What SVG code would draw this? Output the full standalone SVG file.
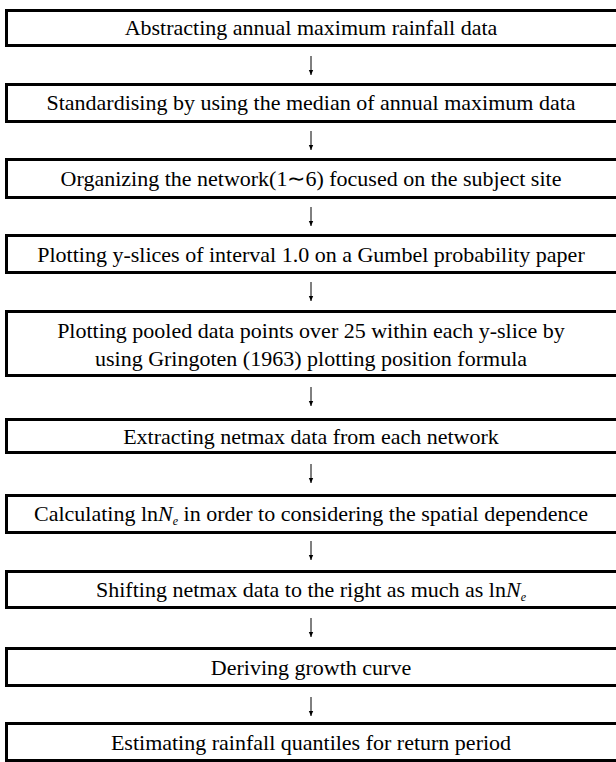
<svg xmlns="http://www.w3.org/2000/svg" width="616" height="762" viewBox="0 0 616 762">
<style>
.box{fill:#fff;stroke:#000;stroke-width:3}
.t{font-family:"Liberation Serif","Times New Roman",serif;font-size:22px;fill:#000;text-anchor:middle}
.c{stroke:#000;stroke-width:1;fill:none}
.i{font-style:italic}
</style>
<defs>
<marker id="ah" markerWidth="6" markerHeight="6" refX="5" refY="3" orient="auto" markerUnits="userSpaceOnUse">
<path d="M0,0.8 L5,3 L0,5.2 Z" fill="#000"/>
</marker>
</defs>
<rect width="616" height="762" fill="#fff"/>
<g id="connectors">
<line class="c" x1="311" y1="56" x2="311" y2="75" marker-end="url(#ah)"/>
<line class="c" x1="311" y1="131" x2="311" y2="150" marker-end="url(#ah)"/>
<line class="c" x1="311" y1="207" x2="311" y2="226" marker-end="url(#ah)"/>
<line class="c" x1="311" y1="282" x2="311" y2="301" marker-end="url(#ah)"/>
<line class="c" x1="311" y1="387" x2="311" y2="406" marker-end="url(#ah)"/>
<line class="c" x1="311" y1="464" x2="311" y2="483" marker-end="url(#ah)"/>
<line class="c" x1="311" y1="541" x2="311" y2="560" marker-end="url(#ah)"/>
<line class="c" x1="311" y1="618" x2="311" y2="637" marker-end="url(#ah)"/>
<line class="c" x1="311" y1="697" x2="311" y2="716" marker-end="url(#ah)"/>
</g>
<g id="n1"><rect class="box" x="6.5" y="10.5" width="620" height="35"/><text class="t" x="311" y="35">Abstracting annual maximum rainfall data</text></g>
<g id="n2"><rect class="box" x="6.5" y="84.5" width="620" height="37"/><text class="t" x="311" y="110">Standardising by using the median of annual maximum data</text></g>
<g id="n3"><rect class="box" x="6.5" y="159.5" width="620" height="38"/><text class="t" x="311" y="186">Organizing the network(1∼6) focused on the subject site</text></g>
<g id="n4"><rect class="box" x="6.5" y="235.5" width="620" height="37"/><text class="t" x="311" y="262">Plotting y-slices of interval 1.0 on a Gumbel probability paper</text></g>
<g id="n5"><rect class="box" x="6.5" y="311.5" width="620" height="64"/><text class="t" x="311" y="338">Plotting pooled data points over 25 within each y-slice by</text><text class="t" x="311" y="366">using Gringoten (1963) plotting position formula</text></g>
<g id="n6"><rect class="box" x="6.5" y="419.5" width="620" height="33"/><text class="t" x="311" y="444">Extracting netmax data from each network</text></g>
<g id="n7"><rect class="box" x="6.5" y="495.5" width="620" height="37"/><text class="t" x="311" y="521">Calculating <tspan>ln</tspan><tspan class="i">N</tspan><tspan class="i" font-size="12" dy="4">e</tspan><tspan dy="-4"> in order to considering the spatial dependence</tspan></text></g>
<g id="n8"><rect class="box" x="6.5" y="571.5" width="620" height="36"/><text class="t" x="311" y="597">Shifting netmax data to the right as much as <tspan>ln</tspan><tspan class="i">N</tspan><tspan class="i" font-size="12" dy="4">e</tspan></text></g>
<g id="n9"><rect class="box" x="6.5" y="648.5" width="620" height="37"/><text class="t" x="311" y="675">Deriving growth curve</text></g>
<g id="n10"><rect class="box" x="6.5" y="723.5" width="620" height="37"/><text class="t" x="311" y="750">Estimating rainfall quantiles for return period</text></g>
</svg>
